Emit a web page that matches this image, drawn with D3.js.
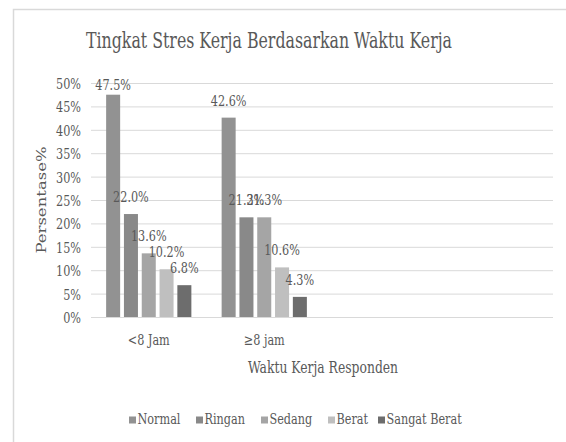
<!DOCTYPE html>
<html><head><meta charset="utf-8">
<script src="https://cdn.jsdelivr.net/npm/d3@7"></script>
<style>body{margin:0;background:#fff}svg{display:block}</style>
</head><body><svg id="c" width="566" height="442"></svg>
<script>
const categories = ["<8 Jam", "\u22658 jam", "", ""];
const seriesNames = ["Normal", "Ringan", "Sedang", "Berat", "Sangat Berat"];
const normal = [47.5, 42.6, null, null];
const ringan = [22.0, 21.3, null, null];
const sedang = [13.6, 21.3, null, null];
const berat = [10.2, 10.6, null, null];
const sangatBerat = [6.8, 4.3, null, null];
const yTicks = [0, 5, 10, 15, 20, 25, 30, 35, 40, 45, 50];
const colors = ["#929292", "#898989", "#a5a5a5", "#bfbfbf", "#6d6d6d"];
const title = "Tingkat Stres Kerja Berdasarkan Waktu Kerja";
const xTitle = "Waktu Kerja Responden";
const yTitle = "Persentase%";

const FONT = "'DejaVu Serif', serif";
const series = [normal, ringan, sedang, berat, sangatBerat];
const SX = 0.75;
const svg = d3.select("#c");
svg.append("rect").attr("width", 566).attr("height", 442).attr("fill", "#fff");
svg.append("rect").attr("x", 13.5).attr("y", 9.5).attr("width", 700).attr("height", 700)
  .attr("fill", "none").attr("stroke", "#d9d9d9").attr("stroke-width", 1.5);

const L = 91, R = 553, T = 83, B = 317;
const x0 = d3.scaleBand().domain(d3.range(categories.length)).range([L, R]);
const x1 = d3.scaleBand().domain(d3.range(seriesNames.length)).range([0, x0.bandwidth()])
  .paddingInner(0.213).paddingOuter(0.85);
const y = d3.scaleLinear().domain([0, 50]).range([B, T]);

function txt(g, x, yy, s, size, anchor) {
  return g.append("text").attr("transform", `translate(${x},${yy}) scale(${SX},1)`)
    .attr("font-family", FONT).attr("fill", "#595959")
    .attr("font-size", size).attr("text-anchor", anchor || "middle").text(s);
}

// grid
const yAxis = d3.axisLeft(y).tickValues(yTicks).tickSize(-(R - L)).tickFormat(d => d + "%");
const gy = svg.append("g").attr("transform", `translate(${L},0)`).call(yAxis);
gy.select(".domain").remove();
gy.selectAll(".tick line").attr("stroke", "#d9d9d9").attr("stroke-width", 1);
gy.selectAll(".tick text").remove();
gy.selectAll(".tick").each(function(d) {
  txt(d3.select(this), -10, 5.5, d + "%", 15, "end");
});

// bars
const gb = svg.append("g");
series.forEach((vals, si) => {
  vals.forEach((v, ci) => {
    if (v == null) return;
    gb.append("rect")
      .attr("x", x0(ci) + x1(si)).attr("y", y(v))
      .attr("width", x1.bandwidth()).attr("height", y(0) - y(v))
      .attr("fill", colors[si]);
  });
});
// labels
series.forEach((vals, si) => {
  vals.forEach((v, ci) => {
    if (v == null) return;
    const cx = x0(ci) + x1(si) + x1.bandwidth() / 2;
    const by = Math.max(y(v) - 12, T + 7);
    txt(svg, cx, by, v.toFixed(1) + "%", 15, "middle");
  });
});

// x axis
const xAxis = d3.axisBottom(x0).tickSize(0).tickFormat(i => categories[i]);
const gx = svg.append("g").attr("transform", `translate(0,${B})`).call(xAxis);
gx.select(".domain").remove();
gx.selectAll(".tick text").remove();
gx.selectAll(".tick").each(function(i) {
  txt(d3.select(this), 0, 28, categories[i], 15, "middle");
});

// titles
txt(svg, 269, 48, title, 23, "middle").attr("textLength", 366 / SX).attr("lengthAdjust", "spacingAndGlyphs");
txt(svg, 323, 373, xTitle, 16.5, "middle");
svg.append("text").attr("transform", `translate(46,200) rotate(-90) scale(1,${SX})`)
  .attr("font-family", FONT).attr("fill", "#595959")
  .attr("font-size", 16.5).attr("text-anchor", "middle").text(yTitle);

// legend
const legX = [129, 196, 261, 328, 378];
const gl = svg.append("g");
seriesNames.forEach((n, i) => {
  const lx = legX[i];
  gl.append("rect").attr("x", lx).attr("y", 416.5).attr("width", 7).attr("height", 7).attr("fill", colors[i]);
  txt(gl, lx + 8.5, 423.5, n, 15, "start");
});
</script></body></html>
